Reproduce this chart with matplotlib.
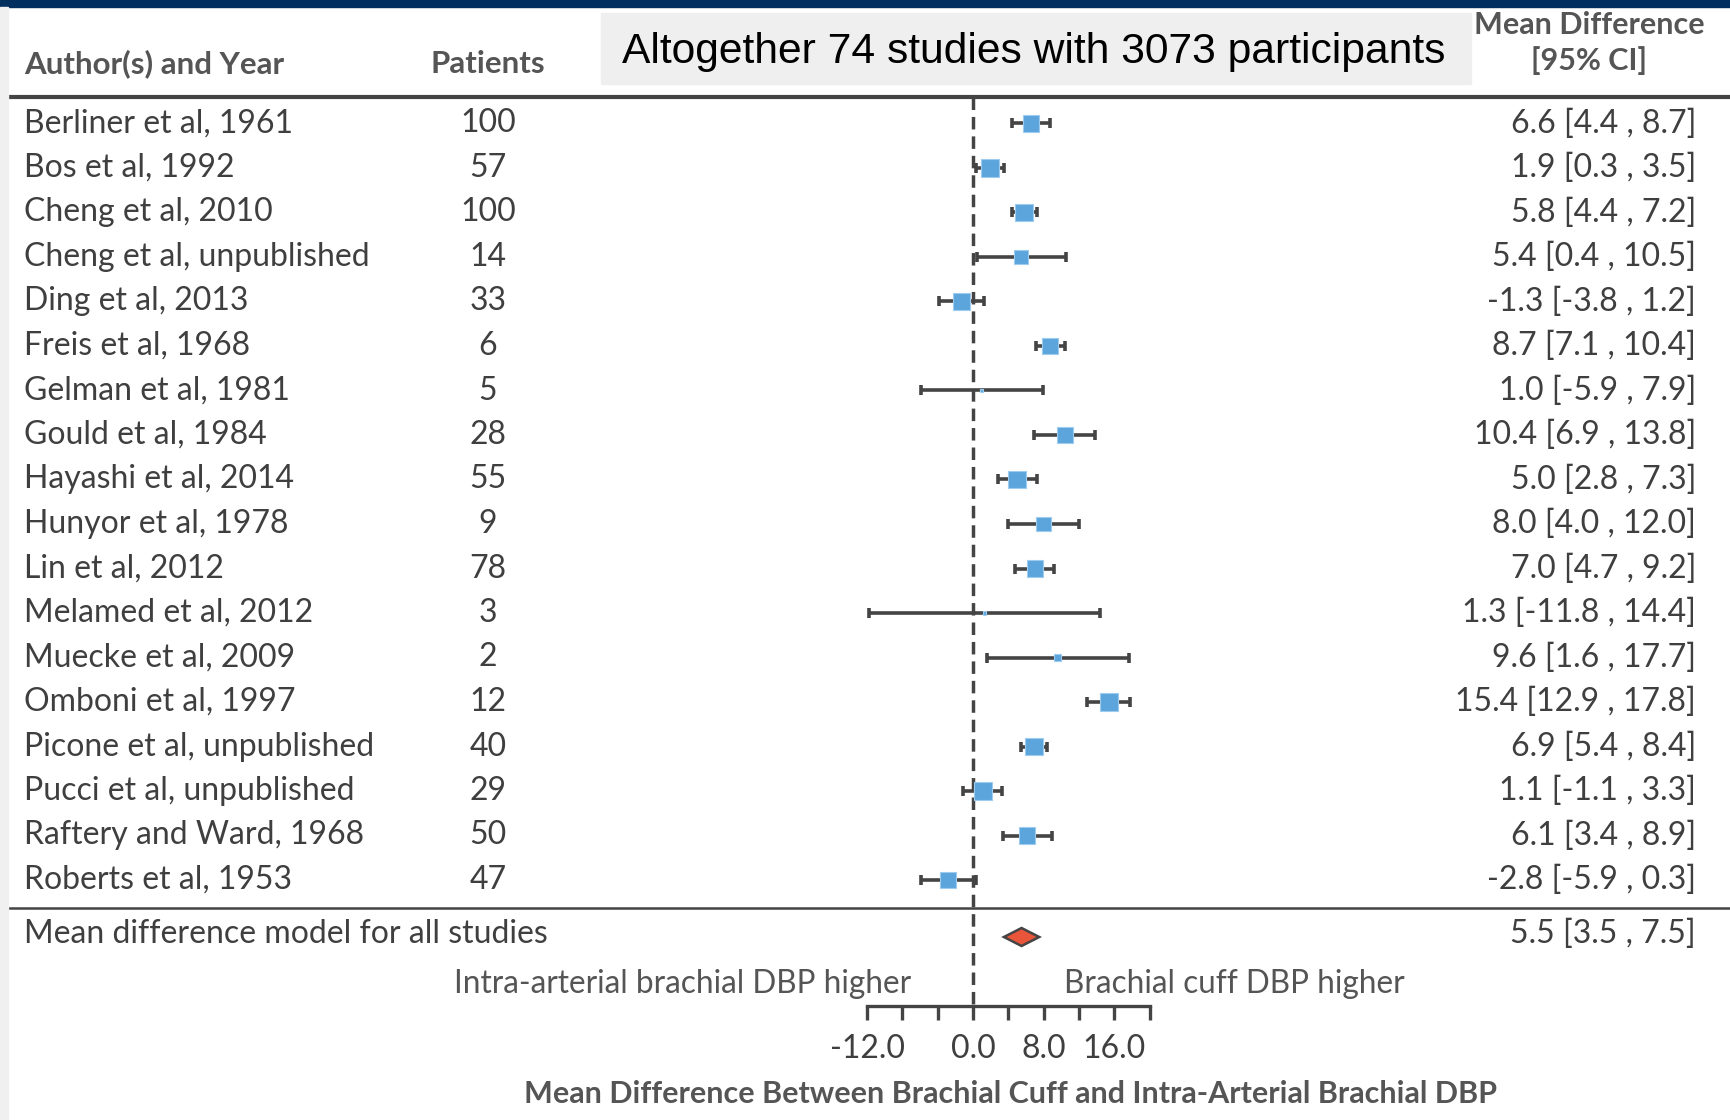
import matplotlib
matplotlib.use('Agg')
import matplotlib.pyplot as plt
from matplotlib.patches import Rectangle
from matplotlib.transforms import blended_transform_factory

# study data
authors = ['Berliner et al, 1961', 'Bos et al, 1992', 'Cheng et al, 2010',
           'Cheng et al, unpublished', 'Ding et al, 2013', 'Freis et al, 1968',
           'Gelman et al, 1981', 'Gould et al, 1984', 'Hayashi et al, 2014',
           'Hunyor et al, 1978', 'Lin et al, 2012', 'Melamed et al, 2012',
           'Muecke et al, 2009', 'Omboni et al, 1997', 'Picone et al, unpublished',
           'Pucci et al, unpublished', 'Raftery and Ward, 1968', 'Roberts et al, 1953']
patients = [100, 57, 100, 14, 33, 6, 5, 28, 55, 9, 78, 3, 2, 12, 40, 29, 50, 47]
md = [6.6, 1.9, 5.8, 5.4, -1.3, 8.7, 1.0, 10.4, 5.0, 8.0, 7.0, 1.3, 9.6, 15.4, 6.9, 1.1, 6.1, -2.8]
ci_lo = [4.4, 0.3, 4.4, 0.4, -3.8, 7.1, -5.9, 6.9, 2.8, 4.0, 4.7, -11.8, 1.6, 12.9, 5.4, -1.1, 3.4, -5.9]
ci_hi = [8.7, 3.5, 7.2, 10.5, 1.2, 10.4, 7.9, 13.8, 7.3, 12.0, 9.2, 14.4, 17.7, 17.8, 8.4, 3.3, 8.9, 0.3]
# relative study weights (%)
weights = [1.28, 1.57, 1.57, 1.02, 1.57, 1.23, 0.05, 1.28, 1.57, 1.08, 1.28, 0.07, 0.25, 1.57, 1.57, 1.57, 1.33, 1.28]

summary_label = 'Mean difference model for all studies'
summary_md, summary_lo, summary_hi = 5.5, 3.5, 7.5

axis_ticks = [-12, -8, -4, 0, 4, 8, 12, 16, 20]
axis_ticklabels = ['-12.0', '', '', '0.0', '', '8.0', '', '16.0', '']

# layout (pixels of the 1730x1120 output)
W, H = 1730, 1120
ZERO_PX, PX_PER_UNIT = 973, 8.83
ROW0_PX, ROW_STEP = 123.5, 44.5

FONT = ['Lato', 'DejaVu Sans']
FS = 23
TXT = '#3f3f3f'
HEAD = '#555555'
LINE = '#444444'

def row_y(py):
    return (py - ROW0_PX) / ROW_STEP

def dx(px):
    return (px - ZERO_PX) / PX_PER_UNIT

fig = plt.figure(figsize=(W / 100, H / 100), dpi=100)
ax = fig.add_axes([0, 0, 1, 1])
ax.set_xlim(dx(0), dx(W))
ax.set_ylim(row_y(H), row_y(0))
ax.axis('off')
tr = blended_transform_factory(ax.transAxes, ax.transData)

# frame decorations
fig.add_artist(Rectangle((0, 1 - 7 / H), 1, 7 / H, color='#012f60', transform=fig.transFigure))
fig.add_artist(Rectangle((0, 0), 8 / W, 1 - 7 / H, color='#f0f0f0', transform=fig.transFigure))
fig.add_artist(Rectangle((601 / W, 1 - 84 / H), 870 / W, 71 / H, color='#efefef', transform=fig.transFigure))
fig.text(1034 / W, 1 - 52 / H, 'Altogether 74 studies with 3073 participants',
         family='Liberation Sans', fontsize=30.7, color='black', ha='center', va='center')

# headers
ax.text(24 / W, row_y(64), 'Author(s) and Year', transform=tr, family=FONT,
        fontsize=22.5, fontweight='bold', color=HEAD, ha='left', va='center')
ax.text(488 / W, row_y(64), 'Patients', transform=tr, family=FONT,
        fontsize=22.5, fontweight='bold', color=HEAD, ha='center', va='center')
ax.text(1589 / W, row_y(25), 'Mean Difference', transform=tr, family=FONT,
        fontsize=22, fontweight='bold', color=HEAD, ha='center', va='center')
ax.text(1589 / W, row_y(61), '[95% CI]', transform=tr, family=FONT,
        fontsize=22, fontweight='bold', color=HEAD, ha='center', va='center')

ax.hlines(row_y(97), dx(8), dx(W), color=LINE, lw=3)
ax.hlines(row_y(908), dx(8), dx(W), color=LINE, lw=1.8)
ax.vlines(0, row_y(97), row_y(1006), color=LINE, lw=2.5, linestyles=(0, (3.6, 2)))

rows = list(range(len(authors)))
for i in rows:
    ax.text(24 / W, i, authors[i], transform=tr, family=FONT, fontsize=FS,
            color=TXT, ha='left', va='center')
    ax.text(488 / W, i, str(patients[i]), transform=tr, family=FONT, fontsize=FS,
            color=TXT, ha='center', va='center')
    ax.text(1696 / W, i, f'{md[i]:.1f} [{ci_lo[i]:.1f} , {ci_hi[i]:.1f}]', transform=tr,
            family=FONT, fontsize=FS, color=TXT, ha='right', va='center')

xerr = [[m - l for m, l in zip(md, ci_lo)], [h - m for m, h in zip(md, ci_hi)]]
ax.errorbar(md, rows, xerr=xerr, fmt='none', ecolor=LINE, elinewidth=2.6,
            capsize=3.8, capthick=2.6, zorder=3)
sides = [12.8 * (w / max(weights)) ** 0.5 for w in weights]
ax.scatter(md, rows, s=[s ** 2 for s in sides], marker='s', color='#5ba5dc',
           edgecolors='#9fcbee', linewidths=0.8, zorder=4)

# summary row
ys = row_y(934)
ax.text(24 / W, ys, summary_label, transform=tr, family=FONT, fontsize=FS,
        color=TXT, ha='left', va='center')
ax.text(1696 / W, ys, f'{summary_md:.1f} [{summary_lo:.1f} , {summary_hi:.1f}]', transform=tr,
        family=FONT, fontsize=FS, color=TXT, ha='right', va='center')
yd = row_y(937)
hd = 9 / ROW_STEP
ax.fill([summary_lo, summary_md, summary_hi, summary_md], [yd, yd - hd, yd, yd + hd],
        facecolor='#e8553a', edgecolor=LINE, lw=1.8, zorder=4)

ax.text(-7.0, row_y(984), 'Intra-arterial brachial DBP higher', family=FONT, fontsize=22.7,
        color=HEAD, ha='right', va='center')
ax.text(10.3, row_y(984), 'Brachial cuff DBP higher', family=FONT, fontsize=22.7,
        color=HEAD, ha='left', va='center')

# scale axis
left_px = ZERO_PX + axis_ticks[0] * PX_PER_UNIT
width_px = (axis_ticks[-1] - axis_ticks[0]) * PX_PER_UNIT
sax = fig.add_axes([left_px / W, 1 - 1006 / H, width_px / W, 0.0001])
sax.set_xlim(axis_ticks[0], axis_ticks[-1])
sax.set_yticks([])
for side in ['top', 'left', 'right']:
    sax.spines[side].set_visible(False)
sax.spines['bottom'].set_linewidth(2.4)
sax.spines['bottom'].set_color(LINE)
sax.set_xticks(axis_ticks)
sax.set_xticklabels(axis_ticklabels, family=FONT, fontsize=FS, color=TXT)
sax.tick_params(axis='x', direction='out', length=10, width=2.4, color=LINE, pad=10)
sax.set_facecolor('none')

fig.text(1010 / W, 1 - 1094 / H, 'Mean Difference Between Brachial Cuff and Intra-Arterial Brachial DBP',
         family=FONT, fontsize=22, fontweight='bold', color=HEAD, ha='center', va='center')

fig.savefig('out.png', dpi=100)
